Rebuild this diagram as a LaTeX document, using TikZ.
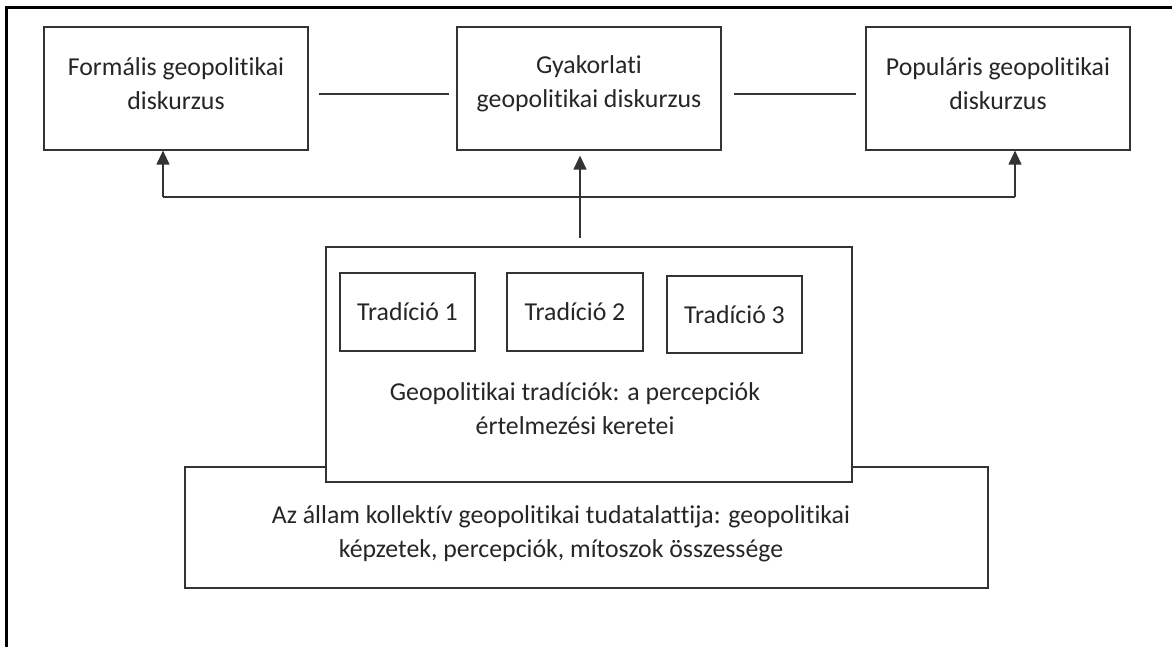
\documentclass[tikz,border=0pt]{standalone}
\usepackage{fontspec}
\setmainfont{Carlito}[Ligatures={NoCommon}]
\usetikzlibrary{arrows.meta}
\begin{document}
\begin{tikzpicture}[x=1pt,y=-1pt,
  box/.style={draw=black!80, line width=1.2pt, fill=white, inner sep=0pt, align=center,
    font=\fontsize{25.8}{34}\selectfont, text=black!85},
  txt/.style={inner sep=0pt, align=center, font=\fontsize{25.8}{34}\selectfont, text=black!85},
  conn/.style={draw=black!80, line width=1.2pt},
  arr/.style={conn, -{Triangle[length=14pt,width=13pt]}},
  frame/.style={draw=black, line width=3pt}]
\useasboundingbox (0,0) rectangle (1172,647);
% outer frame (top and left only)
\coordinate (ftl) at (6.5,7.5);
\coordinate (ftr) at (1172,7.5);
\coordinate (fbl) at (6.5,647);
\draw[frame] (ftr) -- (ftl) -- (fbl);
% top boxes
\node[box, minimum width=264pt, minimum height=123pt] (F) at (176,88.5) {};
\node[txt] (Ft) at (176,84) {Formális geopolitikai\\diskurzus};
\node[box, minimum width=264pt, minimum height=123pt] (G) at (589,88.5) {};
\node[txt] (Gt) at (589,84) {Gyakorlati\\geopolitikai diskurzus};
\node[box, minimum width=264pt, minimum height=123pt] (P) at (998,88.5) {};
\node[txt] (Pt) at (998,84) {Populáris geopolitikai\\diskurzus};
\draw[conn, shorten <=10pt, shorten >=7pt] ([yshift=-5.5pt]F.east) -- ([yshift=-5.5pt]G.west);
\draw[conn, shorten <=12pt, shorten >=9pt] ([yshift=-5.5pt]G.east) -- ([yshift=-5.5pt]P.west);
% bottom boxes
\node[box, minimum width=803pt, minimum height=121pt] (coll) at (586.5,527.5) {};
\node[txt] (colltext) at (561,534) {Az állam kollektív geopolitikai tudatalattija: geopolitikai\\képzetek, percepciók, mítoszok összessége};
\node[box, minimum width=526pt, minimum height=235pt] (trad) at (589,364.5) {};
\node[txt] (tradtext) at (575,409) {Geopolitikai tradíciók: a percepciók\\értelmezési keretei};
\node[box, minimum width=135pt, minimum height=78pt] (T1) at (407.5,312) {Tradíció 1};
\node[box, minimum width=136pt, minimum height=78pt] (T2) at (575,312) {Tradíció 2};
\node[box, minimum width=135pt, minimum height=77pt] (T3) at (734.5,314.5) {Tradíció 3};
% arrows
\coordinate (hl) at (163,197);
\coordinate (hr) at (1015,197);
\coordinate (ma) at (580,247);
\draw[conn] (hl) -- (hr);
\draw[arr] (hl) -- (hl |- F.south);
\draw[arr] (hr) -- (hr |- P.south);
\draw[arr, shorten <=9pt, shorten >=5pt] (ma) -- (ma |- G.south);
\end{tikzpicture}
\end{document}
